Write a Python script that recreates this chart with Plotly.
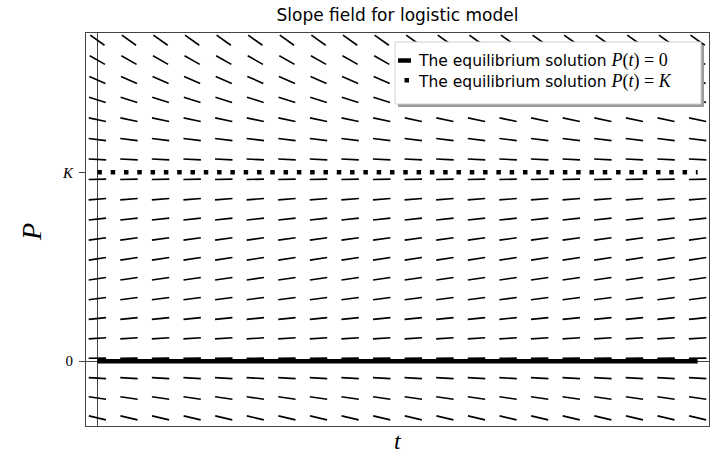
import numpy as np
import plotly.graph_objects as go

# ---- model / data ----
r = 0.1          # growth rate
K = 10           # carrying capacity
t_grid = [0, 1, 2, 3, 4, 5, 6, 7, 8, 9, 10, 11, 12, 13, 14, 15, 16, 17, 18, 19]
P_grid = [-3.0, -1.947, -0.895, 0.158, 1.211, 2.263, 3.316, 4.368, 5.421, 6.474,
          7.526, 8.579, 9.632, 10.684, 11.737, 12.789, 13.842, 14.895, 15.947, 17.0]
eq_t = [0, 19]
eq_zero = [0, 0]
eq_K = [K, K]
y_tickvals = [0, K]
y_ticktext = ["0", "<i>K</i>"]
title_text = "Slope field for logistic model"
legend_labels = [
    "The equilibrium solution <span style=\"font-family:Liberation Serif;font-size:18px\"><i>P</i>(<i>t</i>) = 0</span>",
    "The equilibrium solution <span style=\"font-family:Liberation Serif;font-size:18px\"><i>P</i>(<i>t</i>) = <i>K</i></span>",
]

# ---- layout geometry ----
W, H = 711, 456
ML, MR, MT, MB = 86, 2, 33, 30
PW, PH = W - ML - MR, H - MT - MB
x_range = [-0.36, 19.36]
y_range = [-3.43, 17.38]
px_per_t = PW / (x_range[1] - x_range[0])
px_per_P = PH / (y_range[1] - y_range[0])
SEG_LEN = 17.5  # screen length of each slope mark (px)


def xp(px):
    return (px - ML) / PW


def yp(py):
    return (H - MB - py) / PH


# ---- slope segments (direction computed through the axis scales) ----
seg_x, seg_y = [], []
for P in P_grid:
    f = r * P * (1 - P / K)
    sx, sy = 1.0, f * px_per_P / px_per_t
    n = np.hypot(sx, sy)
    ux, uy = sx / n, sy / n
    dt = ux * SEG_LEN / 2 / px_per_t
    dP = uy * SEG_LEN / 2 / px_per_P
    for t in t_grid:
        seg_x += [t - dt, t + dt, None]
        seg_y += [P - dP, P + dP, None]

fig = go.Figure()
fig.add_trace(go.Scatter(x=seg_x, y=seg_y, mode="lines",
                         line=dict(color="black", width=1.6),
                         hoverinfo="skip", showlegend=False))
fig.add_trace(go.Scatter(x=eq_t, y=eq_zero, mode="lines",
                         line=dict(color="black", width=4.5),
                         name="P(t)=0", showlegend=False))
fig.add_trace(go.Scatter(x=eq_t, y=eq_K, mode="lines",
                         line=dict(color="black", width=4.5, dash="4.5px,8.8px"),
                         name="P(t)=K", showlegend=False))

axis_col = "#444444"
fig.update_xaxes(range=x_range, showgrid=False, zeroline=True,
                 zerolinecolor=axis_col, zerolinewidth=1.2,
                 showline=True, mirror=True, linecolor=axis_col, linewidth=1,
                 showticklabels=False, ticks="")
fig.update_yaxes(range=y_range, showgrid=False, zeroline=True,
                 zerolinecolor=axis_col, zerolinewidth=1.2,
                 showline=True, mirror=True, linecolor=axis_col, linewidth=1,
                 tickvals=y_tickvals, ticktext=y_ticktext, ticks="outside",
                 ticklen=6, tickwidth=1, tickcolor=axis_col,
                 ticklabelstandoff=3,
                 tickfont=dict(family="Liberation Serif", size=15, color="black"))

# ---- legend drawn by hand (box with shadow) ----
shapes = [
    dict(type="rect", xref="paper", yref="paper", layer="above",
         x0=xp(398), x1=xp(704), y0=yp(107), y1=yp(45),
         fillcolor="#9a9a9a", line=dict(width=0)),
    dict(type="rect", xref="paper", yref="paper", layer="above",
         x0=xp(395), x1=xp(701), y0=yp(104), y1=yp(42),
         fillcolor="white", line=dict(color="#d0d0d0", width=1)),
    dict(type="line", xref="paper", yref="paper", layer="above",
         x0=xp(398), x1=xp(411), y0=yp(60.5), y1=yp(60.5),
         line=dict(color="black", width=4.5)),
    dict(type="rect", xref="paper", yref="paper", layer="above",
         x0=xp(404.5), x1=xp(409), y0=yp(82.5), y1=yp(78),
         fillcolor="black", line=dict(width=0)),
]

annotations = [
    dict(text=legend_labels[0], xref="paper", yref="paper", x=xp(416), y=yp(60.5),
         xanchor="left", yanchor="middle", showarrow=False,
         font=dict(family="DejaVu Sans", size=15.5, color="black")),
    dict(text=legend_labels[1], xref="paper", yref="paper", x=xp(416), y=yp(81.5),
         xanchor="left", yanchor="middle", showarrow=False,
         font=dict(family="DejaVu Sans", size=15.5, color="black")),
    dict(text="<i>t</i>", xref="paper", yref="paper", x=xp(397.5), y=yp(455.5),
         xanchor="center", yanchor="bottom", showarrow=False, borderpad=0,
         font=dict(family="Liberation Serif", size=24, color="black")),
    dict(text="<i>P</i>", xref="paper", yref="paper", x=xp(32), y=yp(232),
         xanchor="center", yanchor="middle", showarrow=False, textangle=-90,
         font=dict(family="Liberation Serif", size=28, color="black")),
]

fig.update_layout(
    width=W, height=H,
    margin=dict(l=ML, r=MR, t=MT, b=MB, pad=0),
    paper_bgcolor="white", plot_bgcolor="white",
    showlegend=False,
    title=dict(text=title_text, x=0.5, xref="paper", xanchor="center",
               y=1 - 15 / H, yref="container", yanchor="middle",
               font=dict(family="DejaVu Sans", size=17, color="black")),
    shapes=shapes, annotations=annotations,
)

fig.write_html("out.html")
